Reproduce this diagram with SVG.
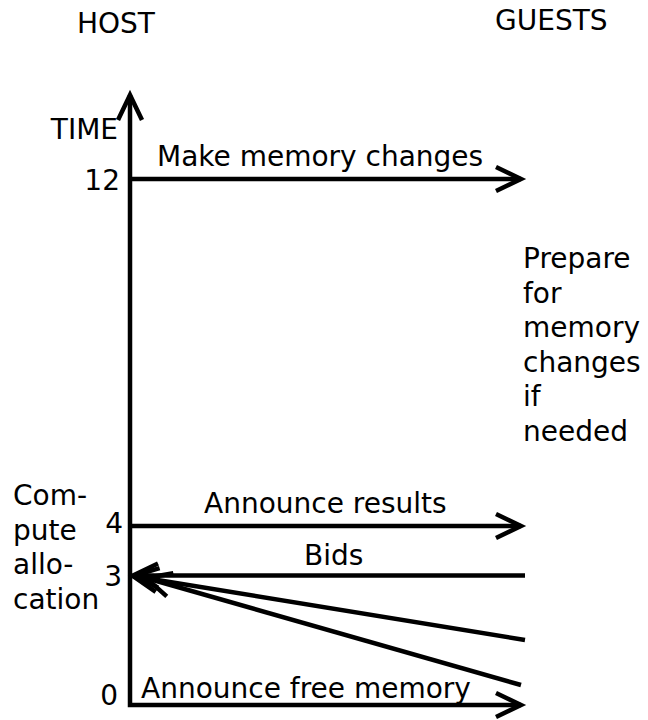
<svg xmlns="http://www.w3.org/2000/svg" width="648" height="720" viewBox="0 0 648 720">
<defs>
<style>
text{font-family:"DejaVu Sans","Liberation Sans",sans-serif;font-size:28px;fill:#000}
.e{text-anchor:end}
.ln{fill:none;stroke:#000;stroke-width:4.5;marker-end:url(#ah)}
</style>
<marker id="ah" markerUnits="userSpaceOnUse" orient="auto-start-reverse" markerWidth="40" markerHeight="40" viewBox="-30 -20 40 40" refX="0" refY="0" overflow="visible">
<path d="M-25,-12 L0,0 L-25,12" fill="none" stroke="#000" stroke-width="4.5"/>
</marker>
</defs>
<g id="labels">
<text x="77" y="33">HOST</text>
<text x="495" y="30">GUESTS</text>
<text class="e" x="118" y="139">TIME</text>
</g>
<g id="ticks">
<text class="e" x="120" y="190">12</text>
<text class="e" x="123" y="533">4</text>
<text class="e" x="122" y="586">3</text>
<text class="e" x="118" y="705">0</text>
</g>
<g id="axis">
<path d="M130,95 L130,705 L521,705" fill="none" stroke="#000" stroke-width="4.5" marker-start="url(#ah)" marker-end="url(#ah)"/>
</g>
<g id="connectors">
<path class="ln" d="M130,179 L521,179"/>
<path class="ln" d="M130,526 L521,526"/>
<path class="ln" d="M525,575.5 L133,575.5"/>
<path class="ln" d="M525,640 L133,576"/>
<path class="ln" d="M521,685 L146,578"/>
</g>
<g id="msg-make">
<text x="157" y="166">Make memory changes</text>
</g>
<g id="msg-results">
<text x="204" y="513">Announce results</text>
</g>
<g id="msg-bids">
<text x="304" y="565">Bids</text>
</g>
<g id="msg-free">
<text x="141" y="698">Announce free memory</text>
</g>
<g id="guest-note">
<text x="523" y="268">Prepare</text>
<text x="523" y="302.5">for</text>
<text x="523" y="337">memory</text>
<text x="523" y="371.5">changes</text>
<text x="523" y="406">if</text>
<text x="523" y="440.5">needed</text>
</g>
<g id="host-note">
<text x="13" y="505">Com-</text>
<text x="13" y="540">pute</text>
<text x="13" y="574">allo-</text>
<text x="13" y="609">cation</text>
</g>
</svg>
